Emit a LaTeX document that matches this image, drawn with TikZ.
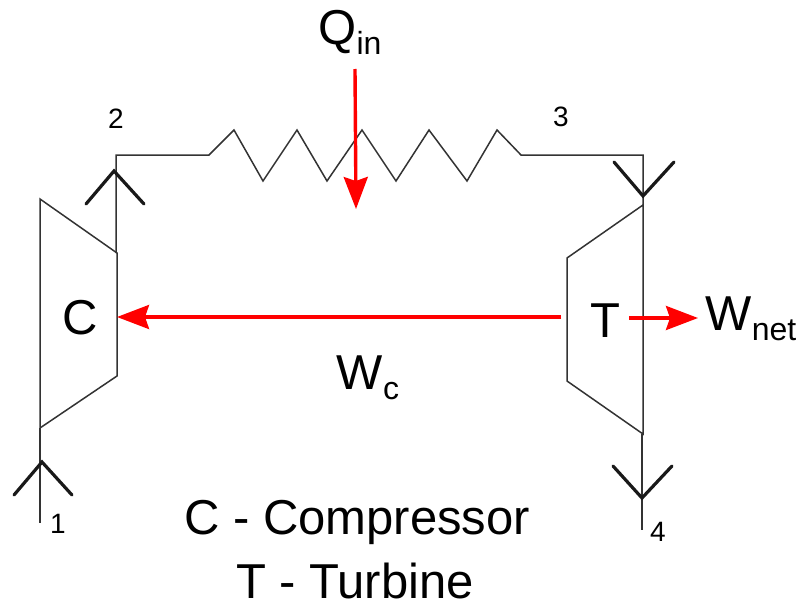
\documentclass[tikz,border=0pt]{standalone}
\usepackage{fontspec}
\setmainfont{Liberation Sans}
\usepackage{tikz}
\usetikzlibrary{arrows.meta}
\newcommand{\lowsub}[1]{\raisebox{-10pt}{\fontsize{32}{34}\selectfont #1}}
\tikzset{
  pipe/.style={line width=1.5pt,black!80,line join=miter},
  flow/.style={line width=3.2pt,black!90,line cap=round},
  work/.style={line width=3.4pt,red,-{Stealth[length=32pt,width=24pt,inset=4pt]}},
  biglabel/.style={font=\fontsize{49}{52}\selectfont,inner sep=0pt},
  numlabel/.style={font=\fontsize{28}{30}\selectfont,inner sep=0pt},
}
\begin{document}
\begin{tikzpicture}[x=1pt,y=-1pt]
\useasboundingbox (0,0) rectangle (804,608);
% compressor and turbine
\draw [pipe] (40,199) -- (117,253) -- (117,376) -- (40,428) -- cycle;
\draw [pipe] (567,258) -- (643,205) -- (643,434) -- (567,381) -- cycle;
% ports
\coordinate (p1) at (40,523);
\coordinate (p2) at (116,155);
\coordinate (p3) at (643,155);
\coordinate (p4) at (642,530);
\coordinate (hl) at (209,155);
\coordinate (hr) at (521,155);
\draw [pipe] (40,428) -- (p1);
\draw [pipe] (116,253) -- (p2) -- (hl) -- (234,130) -- (263,181) -- (297,130) -- (327,181) -- (362,130) -- (396,181) -- (429,130) -- (467,181) -- (497,130) -- (hr) -- (p3) -- (643,205);
\draw [pipe] (642,434) -- (p4);
% flow marks
\draw [flow] (14,495) -- (42,462) -- (72,495);
\draw [flow] (86,204) -- (114,171) -- (144,204);
\draw [flow] (614,162) -- (643,196) -- (674,162);
\draw [flow] (613,466) -- (642,498) -- (672,466);
% red arrows
\coordinate (qs) at (355,69);
\coordinate (qe) at (356,209);
\coordinate (cs) at (561,317);
\coordinate (ce) at (117,317);
\coordinate (ts) at (629,318);
\coordinate (te) at (698,318);
\draw [work] (qs) -- (qe);
\draw [work] (cs) -- (ce);
\draw [work] (ts) -- (te);
% labels
\node [biglabel] (qin) at (350,32) {Q\lowsub{in}};
\node [biglabel] (wnet) at (751,319) {W\lowsub{net}};
\node [biglabel] (wc) at (368,378) {W\lowsub{c}};
\node [biglabel] (c) at (80,318) {C};
\node [biglabel] (t) at (605,321) {T};
\node [numlabel] (n1) at (58,524) {1};
\node [numlabel] (n2) at (116,119) {2};
\node [numlabel] (n3) at (561,117) {3};
\node [numlabel] (n4) at (658,532) {4};
\node [biglabel] (l1) at (357,522) {C - Compressor};
\node [biglabel] (l2) at (355,581) {T - Turbine};
\end{tikzpicture}
\end{document}
